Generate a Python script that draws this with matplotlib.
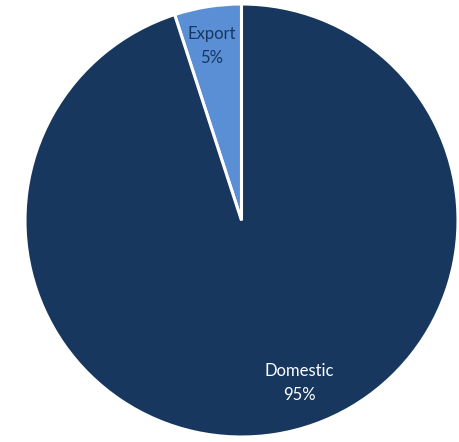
import matplotlib
matplotlib.use("Agg")
import matplotlib.pyplot as plt

# shares of sales
labels = ["Export", "Domestic"]
values = [5, 95]
colors = ["#5A8FD5", "#17375E"]
text_colors = ["#17375E", "#FFFFFF"]
# label anchor points (data units, pie radius = 1)
label_pos = [(-0.136, 0.806), (0.266, -0.751)]

fig = plt.figure(figsize=(4.6, 4.42), dpi=100)
ax = fig.add_axes([25 / 460, 5 / 442, 433 / 460, 433 / 442])

wedges, _ = ax.pie(values, colors=colors, startangle=90, counterclock=True,
                   radius=1.0, wedgeprops=dict(edgecolor="white", linewidth=2.2))

for lab, val, col, (x, y) in zip(labels, values, text_colors, label_pos):
    ax.text(x, y, f"{lab}\n{val}%", ha="center", va="center", color=col,
            fontsize=12, family="Lato", linespacing=1.65)

ax.set_xlim(-1, 1)
ax.set_ylim(-1, 1)
ax.set_aspect("equal")
ax.axis("off")

fig.savefig("out.png", dpi=100)
